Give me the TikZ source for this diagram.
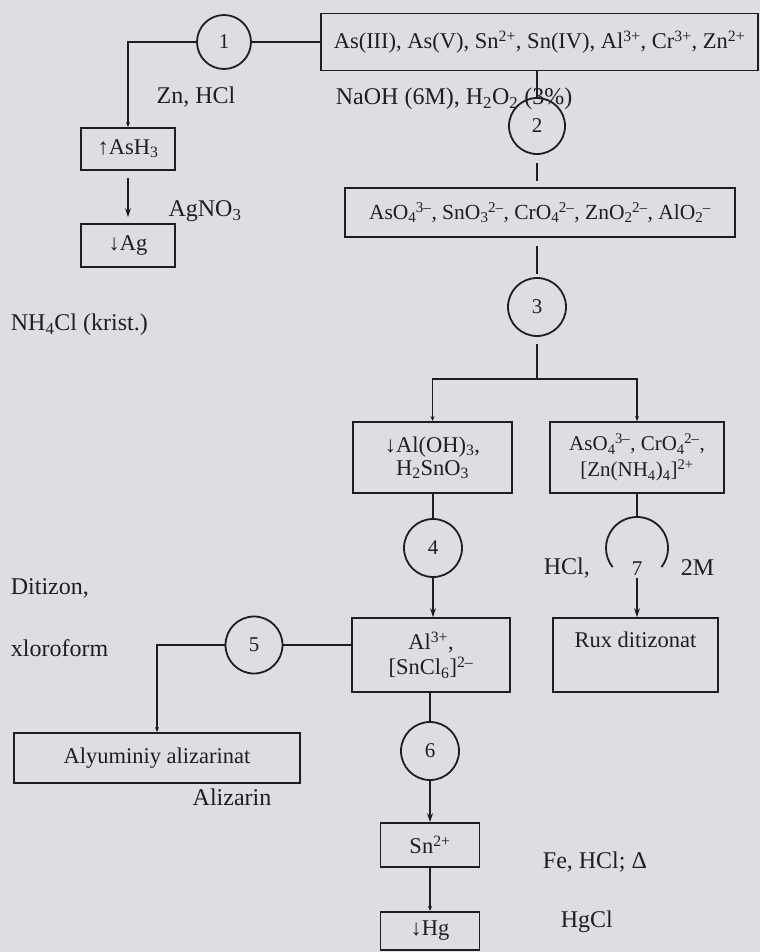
\documentclass[tikz,border=0pt]{standalone}
\usepackage{fontspec}
\setmainfont{Liberation Serif}
\usetikzlibrary{arrows.meta}
\definecolor{bgc}{RGB}{221,222,228}
\definecolor{ink}{RGB}{30,30,32}
\newcommand\sps[1]{\textsuperscript{#1}}
\newcommand\sbs[1]{\textsubscript{#1}}
\newcommand\sbsp[2]{\textsubscript{#1}\kern-0.5pt\textsuperscript{#2}}
\begin{document}
\begin{tikzpicture}[x=1pt,y=-1pt,
  line width=1.8pt, draw=ink, text=ink,
  box/.style={draw, rectangle, inner sep=0pt, align=center, font=\fontsize{22.5}{25}\selectfont},
  num/.style={draw, circle, inner sep=0pt, minimum size=57pt, font=\fontsize{21}{24}\selectfont},
  lab/.style={inner sep=0pt, font=\fontsize{24}{28}\selectfont},
  big/.style={-{Stealth[length=9pt,width=6pt]}},
  tiny/.style={-{Stealth[length=5pt,width=4pt]}}]
\fill[bgc] (0,0) rectangle (760,952);
\useasboundingbox (0,0) rectangle (760,952);

% boxes
\node[box, minimum width=437pt, minimum height=57pt] (top) at (539.5,42) {As(III), As(V), Sn\sps{2+}, Sn(IV), Al\sps{3+}, Cr\sps{3+}, Zn\sps{2+}};
\node[box, minimum width=94pt, minimum height=42pt] (ash) at (128,149) {↑AsH\sbs{3}};
\node[box, minimum width=94pt, minimum height=43pt] (ag) at (128,245.5) {↓Ag};
\node[box, minimum width=390pt, minimum height=49pt, font=\fontsize{21.5}{24}\selectfont] (b2) at (540,212.5) {AsO\sbsp{4}{3–}, SnO\sbsp{3}{2–}, CrO\sbsp{4}{2–}, ZnO\sbsp{2}{2–}, AlO\sbsp{2}{–}};
\node[box, minimum width=159pt, minimum height=71pt] (aloh) at (432.5,457.5) {↓Al(OH)\sbs{3},\\[-2pt] H\sbs{2}SnO\sbs{3}};
\node[box, minimum width=174pt, minimum height=71pt, font=\fontsize{21}{24}\selectfont] (aso) at (637,457.5) {AsO\sbsp{4}{3–}, CrO\sbsp{4}{2–},\\[2pt] [Zn(NH\sbs{4})\sbs{4}]\sps{2+}};
\node[box, minimum width=158pt, minimum height=74pt] (al3) at (431,655) {Al\sps{3+},\\[0pt] [SnCl\sbs{6}]\sps{2–}};
\node[box, minimum width=165pt, minimum height=74pt] (rux) at (635.5,655) {};
\node[lab, font=\fontsize{22.5}{25}\selectfont] (ruxt) at (635.5,640) {Rux ditizonat};
\node[box, minimum width=286pt, minimum height=50pt] (alz) at (157,758) {Alyuminiy alizarinat};
\node[box, minimum width=99pt, minimum height=44pt] (sn) at (430,845) {Sn\sps{2+}};
\node[box, minimum width=99pt, minimum height=38pt] (hg) at (430,931) {↓Hg};

% circles
\node[num, minimum size=54pt] (c1) at (224,42) {1};
\node[num, minimum size=56pt] (c2) at (537,126) {2};
\node[num, minimum size=58pt] (c3) at (537,307) {3};
\node[num, minimum size=58pt] (c4) at (433,548) {4};
\node[num, minimum size=57pt] (c5) at (254,645) {5};
\node[num, minimum size=58pt] (c6) at (430,751) {6};
\node[circle, inner sep=0pt, minimum size=62pt] (c7) at (637,548) {};
\node[inner sep=1pt, font=\fontsize{21}{24}\selectfont] (c7n) at (637,569) {7};
\draw (c7.center) ++(-38:31pt) arc[start angle=-38, end angle=218, radius=31pt];

% connectors
\draw (c1.east) -- (top.west);
\draw[tiny] (c1.west) -| (ash.north);
\draw[big, shorten <=7pt, shorten >=6pt] (ash.south) -- (ag.north);
\draw (c2.north) -- (c2.north |- top.south);
\draw[shorten <=8pt, shorten >=6pt] (c2.south) -- (c2.south |- b2.north);
\draw[shorten <=8pt, shorten >=3pt] (c3.north |- b2.south) -- (c3.north);
\coordinate (split) at (537,379);
\draw[shorten <=7pt] (c3.south) -- (split);
\draw[tiny] (split) -| (aloh.north);
\draw[tiny] (split) -| (aso.north);
\draw (aloh.south -| c4.north) -- (c4.north);
\draw[big] (c4.south) -- (c4.south |- al3.north);
\draw (aso.south) -- (c7.north);
\draw[big] (c7n.south) -- (c7n.south |- rux.north);
\draw (c5.east) -- (c5.east -| al3.west);
\draw[tiny] (c5.west) -| (alz.north);
\draw (c6.north) -- (c6.north |- al3.south);
\draw[big] (c6.south) -- (c6.south |- sn.north);
\draw[tiny] (sn.south) -- (hg.north);

% labels
\node[lab] (l1) at (196,97) {Zn, HCl};
\node[lab] (l2) at (205,211) {AgNO\sbs{3}};
\node[lab, anchor=west] (l3) at (335,99) {NaOH (6M), H\sbs{2}O\sbs{2} (3\%)};
\node[lab, anchor=west] (l4) at (10,325) {NH\sbs{4}Cl (krist.)};
\node[lab, anchor=west] (l5) at (10,588) {Ditizon,};
\node[lab, anchor=west] (l6) at (10,648) {xloroform};
\node[lab] (l7) at (232,797) {Alizarin};
\node[lab, anchor=west] (l8) at (543,568) {HCl,};
\node[lab, anchor=west] (l9) at (680,568) {2M};
\node[lab, anchor=west] (l10) at (542,862) {Fe, HCl; Δ};
\node[lab, anchor=west] (l11) at (560,922) {HgCl};
\end{tikzpicture}
\end{document}
